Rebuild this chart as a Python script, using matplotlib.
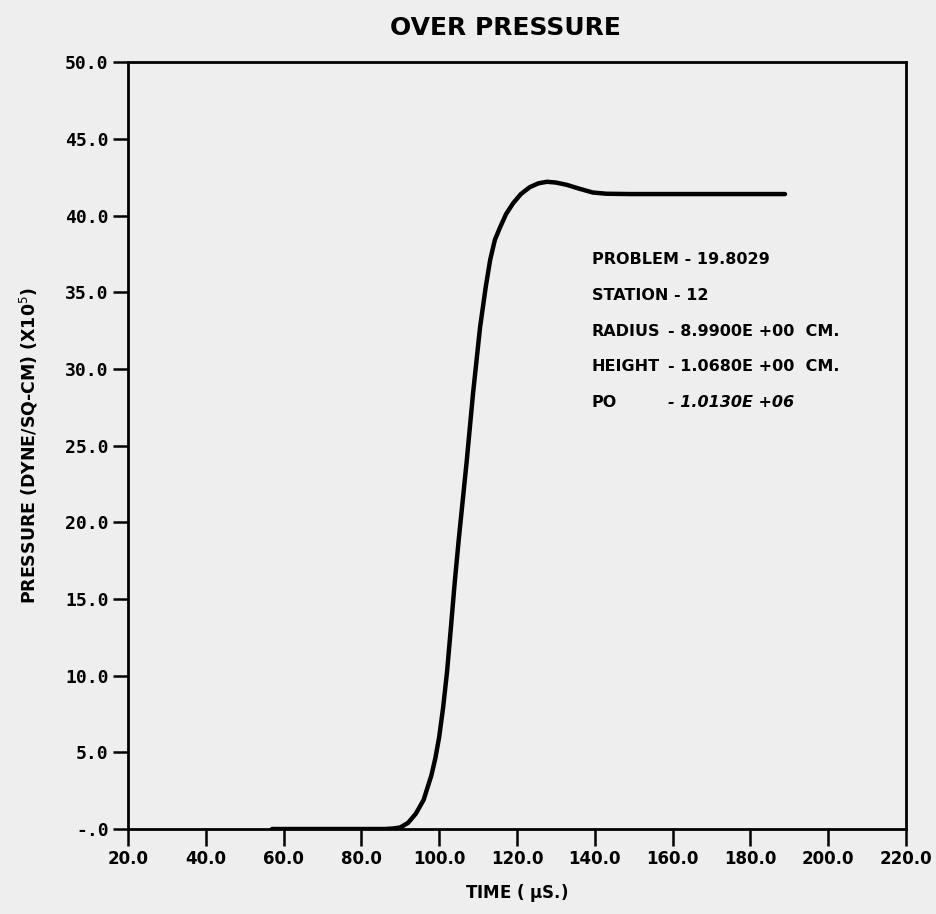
"""
Over-pressure history at a single gauge station (re-drawn plot).

Output:
    out.png
"""

import matplotlib
matplotlib.use("Agg")
import matplotlib.pyplot as plt
from matplotlib.ticker import FixedLocator, FixedFormatter


# ============================================================
# DATA
# ============================================================

TIME_US = [57.0, 70.0, 80.0, 86.0, 88.0, 90.0, 92.0, 94.0, 96.0, 98.0,
           99.0, 100.0, 101.0, 102.0, 103.0, 104.0, 105.0, 106.0, 107.1,
           108.7, 110.5, 112.0, 113.1, 114.3, 115.6, 117.2, 119.0, 121.0,
           123.3, 125.5, 127.7, 130.0, 132.8, 136.0, 139.5, 143.0, 149.0,
           155.0, 166.3, 178.0, 188.9]
PRESSURE = [0.0, 0.0, 0.0, 0.0, 0.03, 0.1, 0.4, 1.0, 1.9, 3.5,
            4.6, 6.0, 7.9, 10.2, 13.1, 16.1, 18.8, 21.3, 24.05,
            28.4, 32.7, 35.4, 37.1, 38.4, 39.2, 40.1, 40.8, 41.4,
            41.85, 42.1, 42.2, 42.15, 42.0, 41.75, 41.5, 41.42, 41.4,
            41.4, 41.4, 41.4, 41.4]

X_TICKS = [20, 40, 60, 80, 100, 120, 140, 160, 180, 200, 220]
X_TICK_LABELS = ["20.0", "40.0", "60.0", "80.0", "100.0", "120.0", "140.0",
                 "160.0", "180.0", "200.0", "220.0"]
Y_TICKS = [0, 5, 10, 15, 20, 25, 30, 35, 40, 45, 50]
Y_TICK_LABELS = ["-.0", "5.0", "10.0", "15.0", "20.0", "25.0", "30.0",
                 "35.0", "40.0", "45.0", "50.0"]

INFO_KEYS = ["PROBLEM - 19.8029", "STATION - 12", "RADIUS", "HEIGHT", "PO"]
INFO_VALUES = ["", "", "- 8.9900E +00  CM.", "- 1.0680E +00  CM.",
               "- 1.0130E +06"]

BG = "#eeeeee"
FONT = "DejaVu Sans"


def main() -> None:
    fig = plt.figure(figsize=(9.37, 9.14), dpi=100, facecolor=BG)
    ax = fig.add_axes([0.1366, 0.093, 0.8303, 0.839], facecolor=BG)

    ax.plot(TIME_US, PRESSURE, color="black", linewidth=3.2,
            solid_capstyle="round", solid_joinstyle="round")

    ax.set_xlim(20, 220)
    ax.set_ylim(0, 50)

    ax.xaxis.set_major_locator(FixedLocator(X_TICKS))
    ax.xaxis.set_major_formatter(FixedFormatter(X_TICK_LABELS))
    ax.yaxis.set_major_locator(FixedLocator(Y_TICKS))
    ax.yaxis.set_major_formatter(FixedFormatter(Y_TICK_LABELS))

    for spine in ax.spines.values():
        spine.set_linewidth(2.0)

    ax.tick_params(axis="x", direction="out", length=12, width=1.8, pad=3,
                   labelsize=12)
    ax.tick_params(axis="y", direction="out", length=11, width=1.8, pad=3,
                   labelsize=13)
    for lab in ax.get_xticklabels():
        lab.set_fontfamily(FONT)
        lab.set_fontweight("bold")
    for lab in ax.get_yticklabels():
        lab.set_fontfamily("DejaVu Sans Mono")
        lab.set_fontweight("bold")

    ax.set_xlabel("TIME ( $\\mathbf{\\mu}$S.)", fontfamily=FONT,
                  fontweight="bold", fontsize=12, labelpad=10)
    ax.set_ylabel("PRESSURE (DYNE/SQ-CM) (X10$^5$)", fontfamily=FONT,
                  fontweight="bold", fontsize=12.5, labelpad=18)

    fig.text(0.539, 0.969, "OVER PRESSURE", ha="center", va="center",
             fontfamily=FONT, fontweight="bold", fontsize=18)

    # info block
    y0 = 0.742
    dy = 0.0465
    for i, (key, val) in enumerate(zip(INFO_KEYS, INFO_VALUES)):
        ax.text(0.596, y0 - i * dy, key, transform=ax.transAxes,
                fontfamily=FONT, fontweight="bold", fontsize=11.5,
                va="center", ha="left")
        if val:
            ax.text(0.694, y0 - i * dy, val, transform=ax.transAxes,
                    fontfamily=FONT, fontweight="bold", fontsize=11.5,
                    va="center", ha="left",
                    fontstyle="italic" if key == "PO" else "normal")

    fig.savefig("out.png", dpi=100, facecolor=BG)
    plt.close(fig)


if __name__ == "__main__":
    main()
